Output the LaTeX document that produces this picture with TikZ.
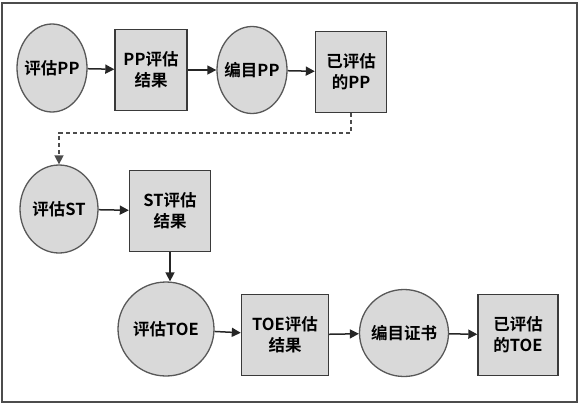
\documentclass[tikz,border=0pt]{standalone}
\usepackage{fontspec}
\setmainfont{Noto Sans CJK SC}[BoldFont={Noto Sans CJK SC Bold}]
\usetikzlibrary{shapes.geometric,arrows.meta}
\definecolor{shapefill}{HTML}{D9D9D9}
\definecolor{shapeline}{HTML}{3A3A3A}
\tikzset{
  txt/.style={font=\bfseries\fontsize{16.5}{20}\selectfont,inner sep=0pt},
  proc/.style={ellipse,draw=shapeline!85,fill=shapefill,line width=1.3pt,inner sep=0pt},
  res/.style={rectangle,draw=shapeline,fill=shapefill,line width=1.4pt,inner sep=0pt,align=center,font=\bfseries\fontsize{16.5}{21}\selectfont},
  flow/.style={line width=1.5pt,draw=black!85,-{Triangle[length=9pt,width=9pt]}},
  dflow/.style={flow,draw=black!70,dash pattern=on 4pt off 3pt}
}
\begin{document}
\begin{tikzpicture}[x=1pt,y=-1pt]
\useasboundingbox (0,0) rectangle (580,405);
\draw[draw=black!70,line width=1.2pt] (2,3) rectangle (577,402);
% row 1
\node[proc,minimum width=70pt,minimum height=88pt,label={[txt]center:评估PP}] (pp1) at (52,68) {};
\node[res,minimum width=72pt,minimum height=81pt] (pp2) at (151,70) {PP评估\\结果};
\node[proc,minimum width=70pt,minimum height=87pt,label={[txt]center:编目PP}] (pp3) at (252,70) {};
\node[res,minimum width=71pt,minimum height=81pt] (pp4) at (351,72) {已评估\\的PP};
% row 2
\node[proc,minimum width=78pt,minimum height=88pt,label={[txt]center:评估ST}] (st1) at (59,209) {};
\node[res,minimum width=81pt,minimum height=81pt] (st2) at (170,211) {ST评估\\结果};
% row 3
\node[proc,minimum width=96pt,minimum height=94pt,label={[txt]center:评估TOE}] (toe1) at (166,329) {};
\node[res,minimum width=87pt,minimum height=81pt] (toe2) at (285,335) {TOE评估\\结果};
\node[proc,minimum width=89pt,minimum height=87pt,label={[txt]center:编目证书}] (toe3) at (404,333) {};
\node[res,minimum width=80pt,minimum height=81pt] (toe4) at (518,335) {已评估\\的TOE};
% connectors
\draw[flow] (pp1) -- (pp2);
\draw[flow] (pp2) -- (pp3);
\draw[flow] (pp3) -- (pp4);
\coordinate (d1) at (351,133);
\draw[dflow] (pp4.south) -- (d1) -| (st1.north);
\draw[flow] (st1) -- (st2);
\draw[flow] (st2.south) -- (st2.south |- toe1.north);
\draw[flow] (toe1) -- (toe2);
\draw[flow] (toe2) -- (toe3);
\draw[flow] (toe3) -- (toe4);
\end{tikzpicture}
\end{document}
